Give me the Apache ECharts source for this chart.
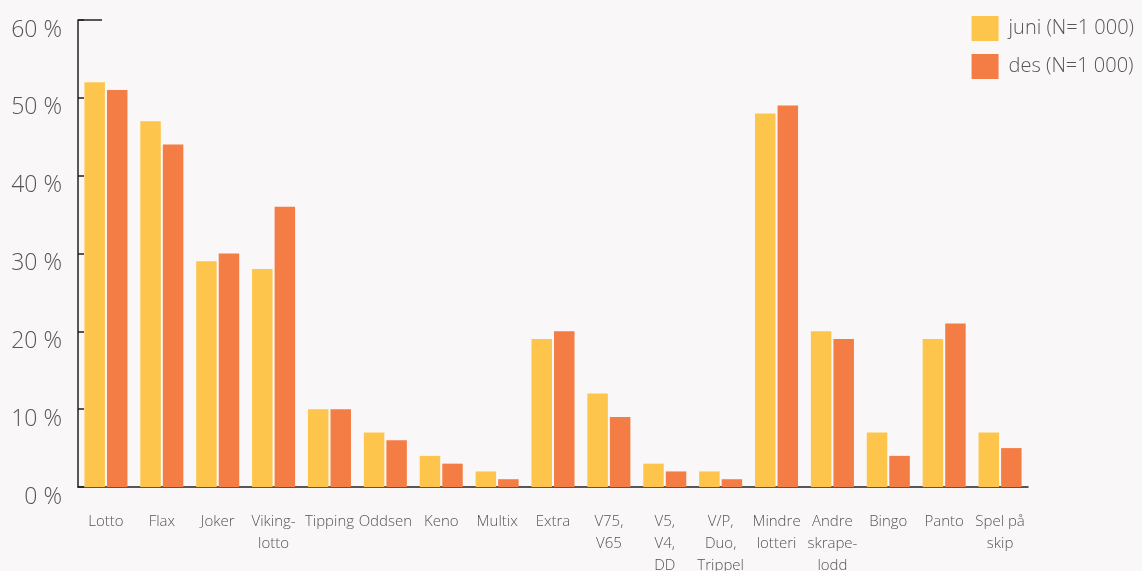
<!DOCTYPE html>
<html>
<head>
<meta charset="utf-8">
<script src="https://cdn.jsdelivr.net/npm/echarts@6/dist/echarts.min.js"></script>
<style>
  html, body { margin: 0; padding: 0; background: #f9f7f8; }
  #chart { width: 1142px; height: 571px; }
</style>
</head>
<body>
<div id="chart"></div>
<script>
// categories and values (percent)
const categories = ['Lotto', 'Flax', 'Joker', 'Viking-\nlotto', 'Tipping', 'Oddsen', 'Keno', 'Multix', 'Extra',
  'V75,\nV65', 'V5,\nV4,\nDD', 'V/P,\nDuo,\nTrippel', 'Mindre\nlotteri', 'Andre\nskrape-\nlodd', 'Bingo', 'Panto', 'Spel på\nskip']
const juni = [52, 47, 29, 28, 10, 7, 4, 2, 19, 12, 3, 2, 48, 20, 7, 19, 7]
const des = [51, 44, 30, 36, 10, 6, 3, 1, 20, 9, 2, 1, 49, 19, 4, 21, 5]
const seriesNames = ['juni (N=1 000)', 'des (N=1 000)']
const yTicks = [0, 10, 20, 30, 40, 50, 60]

const font = '"Open Sans", "DejaVu Sans", sans-serif'
const textColor = '#555'
const axisColor = '#222'

const chart = echarts.init(document.getElementById('chart'))
const option = {
  backgroundColor: '#f9f7f8',
  animation: false,
  textStyle: { fontFamily: font },
  grid: { left: 78, right: 114, top: 20, bottom: 84, containLabel: false, outerBoundsMode: 'none' },
  legend: {
    right: 3,
    top: 11,
    orient: 'vertical',
    itemWidth: 27,
    itemHeight: 25,
    itemGap: 13,
    icon: 'rect',
    textStyle: { fontSize: 20, color: textColor, fontWeight: 300, fontFamily: font, padding: [0, 0, 0, 5] },
    data: seriesNames
  },
  xAxis: {
    type: 'category',
    data: categories,
    axisLine: { lineStyle: { color: axisColor, width: 1.5 } },
    axisTick: { inside: true, length: 11, lineStyle: { color: axisColor, width: 1.5 } },
    axisLabel: {
      interval: 0,
      margin: 24,
      fontSize: 15,
      lineHeight: 22,
      color: textColor,
      fontWeight: 300,
      fontFamily: font
    }
  },
  yAxis: {
    type: 'value',
    min: yTicks[0],
    max: yTicks[yTicks.length - 1],
    interval: 10,
    splitLine: { show: false },
    axisLine: { show: true, lineStyle: { color: axisColor, width: 1.5 } },
    axisTick: { show: true, inside: true, length: 6, lineStyle: { color: axisColor, width: 1.5 } },
    axisLabel: {
      margin: 16,
      fontSize: 23,
      lineHeight: 20,
      color: textColor,
      fontWeight: 300,
      fontFamily: font,
      verticalAlign: 'top',
      formatter: v => v + ' %'
    }
  },
  series: [
    {
      name: seriesNames[0],
      type: 'bar',
      data: juni,
      barGap: '10%',
      barCategoryGap: '23%',
      itemStyle: { color: '#fec54d' }
    },
    {
      name: seriesNames[1],
      type: 'bar',
      data: des,
      barGap: '10%',
      barCategoryGap: '23%',
      itemStyle: { color: '#f47d45' }
    }
  ]
}
chart.setOption(option)

// longer tick at the top of the y axis
const topY = chart.convertToPixel({ yAxisIndex: 0 }, yTicks[yTicks.length - 1])
chart.setOption({
  graphic: [{
    type: 'line',
    shape: { x1: 78, y1: topY, x2: 102, y2: topY },
    style: { stroke: axisColor, lineWidth: 1.5 }
  }]
})
</script>
</body>
</html>
